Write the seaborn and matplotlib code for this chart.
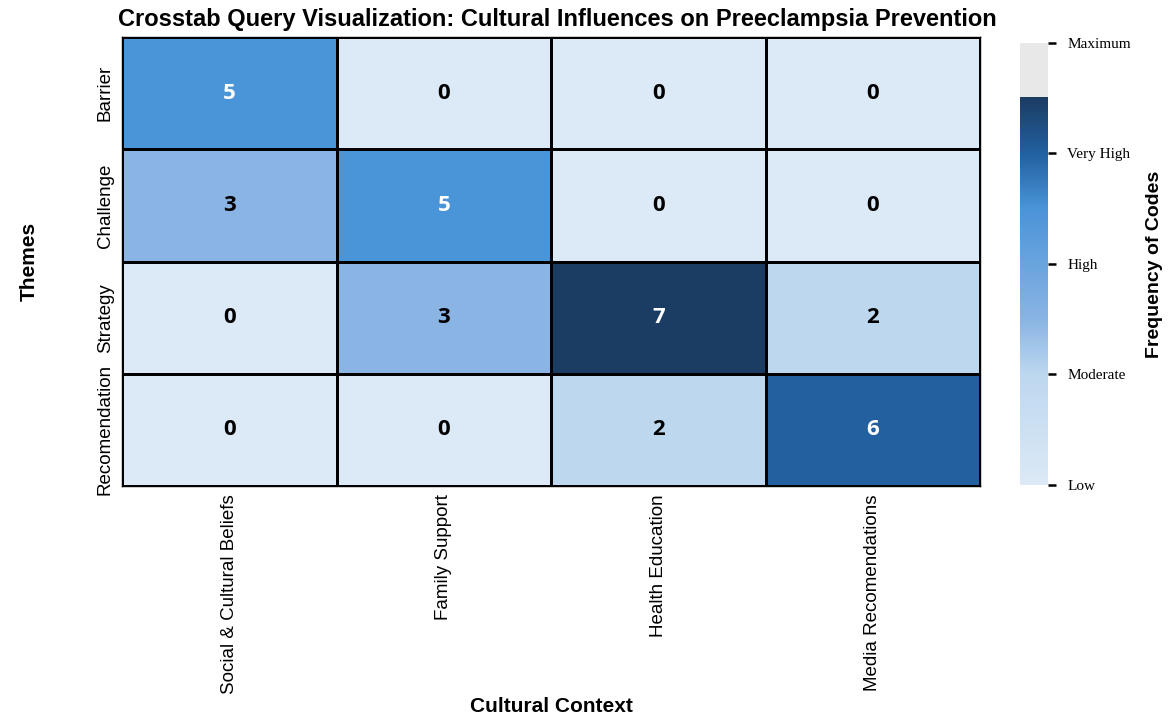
import numpy as np
import pandas as pd
import seaborn as sns
import matplotlib.pyplot as plt
from matplotlib.colors import ListedColormap, to_rgb

themes = ['Barrier', 'Challenge', 'Strategy', 'Recomendation']
contexts = ['Social & Cultural Beliefs', 'Family Support', 'Health Education', 'Media Recomendations']
barrier = [5, 0, 0, 0]
challenge = [3, 5, 0, 0]
strategy = [0, 3, 7, 2]
recomendation = [0, 0, 2, 6]
level_ticks = [0, 2, 4, 6, 8]
level_labels = ['Low', 'Moderate', 'High', 'Very High', 'Maximum']

df = pd.DataFrame([barrier, challenge, strategy, recomendation], index=themes, columns=contexts)

# custom colormap: blue gradient up to 7, light grey above
stops = [0, 2, 3, 5, 6, 7]
stop_colors = ['#dce9f6', '#bdd7ef', '#89b4e3', '#4a94d8', '#2260a0', '#1b3d64']
vals = np.linspace(0, 8, 1024)
rgb = np.array([to_rgb(c) for c in stop_colors])
cols = np.column_stack([np.interp(vals, stops, rgb[:, i]) for i in range(3)])
cols[vals > 7.03] = to_rgb('#e8e8e8')
cmap = ListedColormap(cols)

sns.set_style('white')
plt.rcParams.update({'text.color': 'black', 'axes.labelcolor': 'black',
                     'xtick.color': 'black', 'ytick.color': 'black'})
fig = plt.figure(figsize=(11.68, 7.19), dpi=100)
ax = fig.add_axes([0.1045, 0.324, 0.7346, 0.6245])
cax = fig.add_axes([0.8733, 0.3255, 0.024, 0.6147])

sns.heatmap(df, ax=ax, cbar_ax=cax, cmap=cmap, vmin=0, vmax=8,
            linewidths=1.0, linecolor='black', annot=False)

for i in range(df.shape[0]):
    for j in range(df.shape[1]):
        v = df.iloc[i, j]
        ax.text(j + 0.5, i + 0.5, str(v), ha='center', va='center',
                fontsize=16, fontweight='bold', family='Open Sans',
                color='white' if v >= 5 else 'black')

for side in ['top', 'bottom', 'left', 'right']:
    ax.spines[side].set_visible(True)
    ax.spines[side].set_color('black')
    ax.spines[side].set_linewidth(1.0)

ax.set_xticklabels(contexts, rotation=90, fontsize=13.5, family='Liberation Sans')
ax.set_yticklabels(themes, rotation=90, va='center', fontsize=13.5, family='Liberation Sans')
ax.tick_params(length=0, pad=6)
ax.set_xlabel('Cultural Context', fontsize=15, fontweight='bold', family='Liberation Sans', labelpad=2)
ax.set_ylabel('Themes', fontsize=15, fontweight='bold', family='Liberation Sans', labelpad=42)
ax.set_title('Crosstab Query Visualization: Cultural Influences on Preeclampsia Prevention',
             fontsize=17, fontweight='bold', family='Liberation Sans', pad=8, x=0.507)

cbar = ax.collections[0].colorbar
cbar.outline.set_visible(False)
cbar.set_ticks(level_ticks)
cbar.set_ticklabels(level_labels)
cax.tick_params(length=6, width=1.8, labelsize=11, pad=8)
for t in cax.get_yticklabels():
    t.set_family('Liberation Serif')
cbar.set_label('Frequency of Codes', fontsize=14, fontweight='bold', family='Liberation Sans', labelpad=11)

fig.savefig('out.png', dpi=100)
